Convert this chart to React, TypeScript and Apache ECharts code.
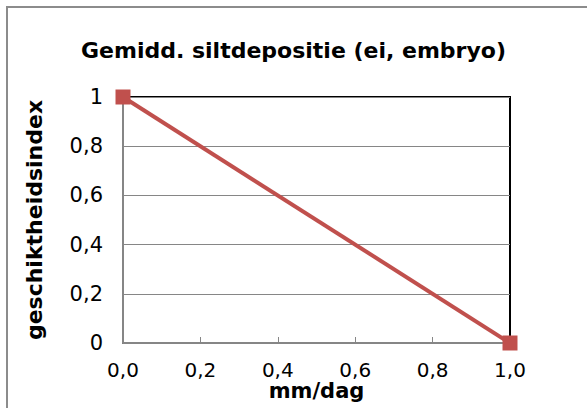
import React, { useEffect, useRef } from "react";
import * as echarts from "echarts";

const title = "Gemidd. siltdepositie (ei, embryo)";
const xName = "mm/dag";
const yName = "geschiktheidsindex";
const xValues = [0, 1];
const yValues = [1, 0];

const FONT = "DejaVu Sans, Verdana, sans-serif";

export default function App() {
  const ref = useRef<HTMLDivElement>(null);
  useEffect(() => {
    document.body.style.margin = "0";
    const chart = echarts.init(ref.current!, null, { renderer: "svg" });
    const data = xValues.map((x, i) => [x, yValues[i]]);
    chart.setOption({
      animation: false,
      backgroundColor: "#ffffff",
      title: {
        text: title,
        left: "center",
        top: 34,
        textStyle: { fontFamily: FONT, fontSize: 22, fontWeight: "bold", color: "#000" },
      },
      graphic: [
        {
          type: "rect",
          shape: { x: 7, y: 7, width: 620, height: 440 },
          style: { fill: "none", stroke: "#8c8c8c", lineWidth: 2 },
          silent: true,
        },
      ],
      grid: {
        left: 123,
        top: 97,
        width: 387,
        height: 246,
        show: true,
        borderColor: "#000",
        borderWidth: 2,
        containLabel: false,
        outerBoundsMode: "none",
      },
      xAxis: {
        type: "value",
        min: 0,
        max: 1,
        interval: 0.2,
        name: xName,
        nameLocation: "middle",
        nameGap: 39,
        nameMoveOverlap: false,
        nameTextStyle: {
          fontFamily: FONT,
          fontSize: 21,
          lineHeight: 18,
          fontWeight: "bold",
          color: "#000",
        },
        axisLine: { show: true, lineStyle: { color: "#868686", width: 2 } },
        axisTick: { show: true, inside: true, length: 6, lineStyle: { color: "#868686", width: 1 } },
        splitLine: { show: false },
        axisLabel: {
          fontFamily: FONT,
          fontSize: 20,
          lineHeight: 16,
          color: "#000",
          margin: 19,
          formatter: (v: number) => v.toFixed(1).replace(".", ","),
        },
      },
      yAxis: {
        type: "value",
        min: 0,
        max: 1,
        interval: 0.2,
        name: yName,
        nameLocation: "middle",
        nameGap: 78,
        nameMoveOverlap: false,
        nameTextStyle: { fontFamily: FONT, fontSize: 22, fontWeight: "bold", color: "#000" },
        axisLine: { show: true, lineStyle: { color: "#868686", width: 2 } },
        axisTick: { show: false },
        splitLine: { show: true, lineStyle: { color: "#868686", width: 1 } },
        axisLabel: {
          fontFamily: FONT,
          fontSize: 21,
          color: "#000",
          margin: 20,
          formatter: (v: number) =>
            v === 0 || v === 1 ? String(v) : v.toFixed(1).replace(".", ","),
        },
      },
      series: [
        {
          type: "line",
          data,
          clip: false,
          symbol: "rect",
          symbolSize: 15,
          lineStyle: { color: "#C0504D", width: 4 },
          itemStyle: { color: "#C0504D" },
        },
      ],
    });
    return () => chart.dispose();
  }, []);
  return <div ref={ref} style={{ width: 587, height: 408 }} />;
}
